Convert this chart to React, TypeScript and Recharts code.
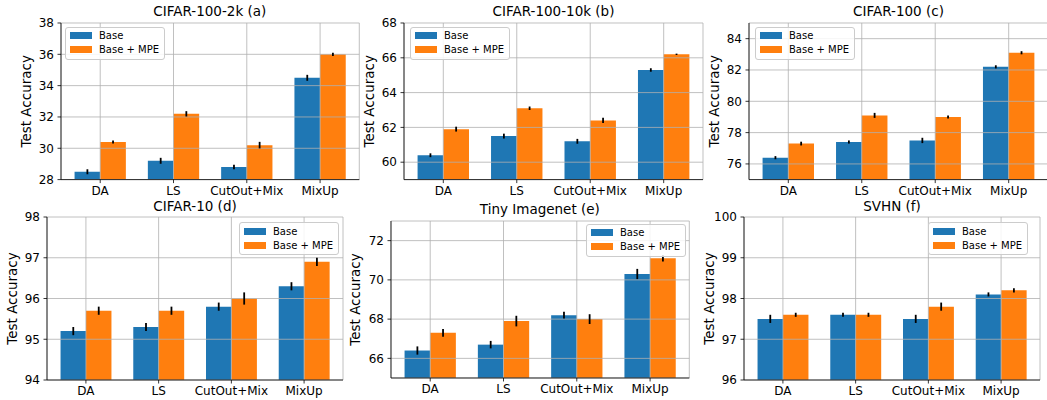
import React from 'react';
import { BarChart, Bar, XAxis, YAxis, CartesianGrid, ErrorBar, Legend } from 'recharts';

// ---------- data ----------
const categories = ['DA', 'LS', 'CutOut+Mix', 'MixUp'];
const seriesNames = ['Base', 'Base + MPE'];
const seriesColors = ['#1f77b4', '#ff7f0e'];

// (a) CIFAR-100-2k
const aBase = [28.5, 29.2, 28.8, 34.5];
const aBaseErr = [0.16, 0.19, 0.14, 0.19];
const aMpe = [30.4, 32.2, 30.2, 36.0];
const aMpeErr = [0.1, 0.17, 0.21, 0.1];
const aTicks = [28, 30, 32, 34, 36, 38];

// (b) CIFAR-100-10k
const bBase = [60.4, 61.5, 61.2, 65.3];
const bBaseErr = [0.11, 0.14, 0.14, 0.1];
const bMpe = [61.9, 63.1, 62.4, 66.2];
const bMpeErr = [0.14, 0.1, 0.15, 0.04];
const bTicks = [60, 62, 64, 66, 68];

// (c) CIFAR-100
const cBase = [76.4, 77.4, 77.5, 82.2];
const cBaseErr = [0.1, 0.1, 0.17, 0.1];
const cMpe = [77.3, 79.1, 79.0, 83.1];
const cMpeErr = [0.12, 0.16, 0.1, 0.1];
const cTicks = [76, 78, 80, 82, 84];

// (d) CIFAR-10
const dBase = [95.2, 95.3, 95.8, 96.3];
const dBaseErr = [0.1, 0.1, 0.1, 0.1];
const dMpe = [95.7, 95.7, 96.0, 96.9];
const dMpeErr = [0.1, 0.1, 0.15, 0.1];
const dTicks = [94, 95, 96, 97, 98];

// (e) Tiny Imagenet
const eBase = [66.4, 66.7, 68.2, 70.3];
const eBaseErr = [0.21, 0.19, 0.17, 0.26];
const eMpe = [67.3, 67.9, 68.0, 71.1];
const eMpeErr = [0.2, 0.27, 0.25, 0.17];
const eTicks = [66, 68, 70, 72];

// (f) SVHN
const fBase = [97.5, 97.6, 97.5, 98.1];
const fBaseErr = [0.1, 0.05, 0.1, 0.05];
const fMpe = [97.6, 97.6, 97.8, 98.2];
const fMpeErr = [0.05, 0.05, 0.1, 0.05];
const fTicks = [96, 97, 98, 99, 100];

const buildRows = (base: number[], baseErr: number[], mpe: number[], mpeErr: number[]) =>
  categories.map((name, i) => ({ name, base: base[i], baseErr: baseErr[i], mpe: mpe[i], mpeErr: mpeErr[i] }));

// ---------- layout ----------
const FONT = '"DejaVu Sans", Verdana, sans-serif';
const ML = 50, MT = 20, MR = 10, MB = 30, XH = 25;

type PanelCfg = {
  title: string;
  rows: any[];
  domain: [number, number];
  ticks: number[];
  x0: number; y0: number; x1: number; y1: number;
  lx: number; ly: number;
};

const panels: PanelCfg[] = [
  { title: 'CIFAR-100-2k (a)', rows: buildRows(aBase, aBaseErr, aMpe, aMpeErr), domain: [28, 38], ticks: aTicks,
    x0: 60.7, y0: 22.7, x1: 359, y1: 179.3, lx: 65, ly: 27 },
  { title: 'CIFAR-100-10k (b)', rows: buildRows(bBase, bBaseErr, bMpe, bMpeErr), domain: [59, 68], ticks: bTicks,
    x0: 404, y0: 22.7, x1: 703, y1: 179.3, lx: 410, ly: 27 },
  { title: 'CIFAR-100 (c)', rows: buildRows(cBase, cBaseErr, cMpe, cMpeErr), domain: [75, 85], ticks: cTicks,
    x0: 749, y0: 22.7, x1: 1048, y1: 179.3, lx: 755, ly: 27 },
  { title: 'CIFAR-10 (d)', rows: buildRows(dBase, dBaseErr, dMpe, dMpeErr), domain: [94, 98], ticks: dTicks,
    x0: 47, y0: 217, x1: 343, y1: 380, lx: 239, ly: 222 },
  { title: 'Tiny Imagenet (e)', rows: buildRows(eBase, eBaseErr, eMpe, eMpeErr), domain: [65, 73], ticks: eTicks,
    x0: 390.7, y0: 220.7, x1: 689, y1: 377.7, lx: 586, ly: 224 },
  { title: 'SVHN (f)', rows: buildRows(fBase, fBaseErr, fMpe, fMpeErr), domain: [96, 100], ticks: fTicks,
    x0: 744, y0: 217, x1: 1040, y1: 380, lx: 928, ly: 222 },
];

const LegendBox = () => (
  <div
    style={{
      background: 'rgba(255,255,255,0.85)',
      border: '1px solid #cccccc',
      borderRadius: 3,
      padding: '1px 5px 2px 4px',
      fontFamily: FONT,
      fontSize: 10,
      color: '#000',
    }}
  >
    {seriesNames.map((n, i) => (
      <div key={n} style={{ display: 'flex', alignItems: 'center', height: 14, whiteSpace: 'nowrap' }}>
        <span style={{ display: 'inline-block', width: 22, height: 7, background: seriesColors[i], marginRight: 7 }} />
        <span>{n}</span>
      </div>
    ))}
  </div>
);

function Panel({ cfg }: { cfg: PanelCfg }) {
  const left = cfg.x0 - ML;
  const top = cfg.y0 - MT;
  const pw = cfg.x1 - cfg.x0;
  const ph = cfg.y1 - cfg.y0;
  const width = pw + ML + MR;
  const height = ph + MT + MB;
  const unit = pw / 4.07;
  const pad = (pw - 4 * unit) / 2;
  const barSize = 0.35 * unit;
  const axisStroke = { stroke: '#000', strokeWidth: 0.8 };

  const ylabelContent = (p: any) => {
    const vb = p.viewBox || {};
    const bx = vb.x + vb.width - 30.5;
    const cy = vb.y + vb.height / 2;
    return (
      <text x={bx} y={cy} transform={`rotate(-90, ${bx}, ${cy})`} textAnchor="middle" fontSize={13.5} fontFamily={FONT} fill="#000">
        Test Accuracy
      </text>
    );
  };

  const gridProps: any = { zIndex: 350 };

  return (
    <div style={{ position: 'absolute', left, top, width, height }}>
      <div
        style={{
          position: 'absolute',
          left: ML,
          width: pw,
          top: MT - 6.5 - 13,
          height: 16,
          lineHeight: '16px',
          textAlign: 'center',
          fontFamily: FONT,
          fontSize: 13.5,
          color: '#000',
          whiteSpace: 'nowrap',
        }}
      >
        {cfg.title}
      </div>
      <BarChart
        width={width}
        height={height}
        data={cfg.rows}
        margin={{ top: MT, right: MR, bottom: MB - XH, left: 0 }}
        barGap={0}
        barSize={barSize}
      >
        <Bar dataKey="base" name={seriesNames[0]} fill={seriesColors[0]} isAnimationActive={false}>
          <ErrorBar dataKey="baseErr" width={0} stroke="#000" strokeWidth={1.8} direction="y" isAnimationActive={false} />
        </Bar>
        <Bar dataKey="mpe" name={seriesNames[1]} fill={seriesColors[1]} isAnimationActive={false}>
          <ErrorBar dataKey="mpeErr" width={0} stroke="#000" strokeWidth={1.8} direction="y" isAnimationActive={false} />
        </Bar>
        <CartesianGrid stroke="#b0b0b0" strokeWidth={0.8} horizontal vertical {...gridProps} />
        <XAxis
          dataKey="name"
          type="category"
          interval={0}
          padding={{ left: pad, right: pad }}
          height={XH}
          tickSize={3.5}
          tickMargin={3}
          tick={{ fontSize: 12, fill: '#000', fontFamily: FONT }}
          tickLine={axisStroke}
          axisLine={axisStroke}
        />
        <XAxis
          xAxisId="top"
          orientation="top"
          dataKey="name"
          type="category"
          height={0}
          padding={{ left: pad, right: pad }}
          tick={false}
          tickLine={false}
          axisLine={axisStroke}
        />
        <YAxis
          type="number"
          domain={cfg.domain}
          ticks={cfg.ticks}
          allowDataOverflow
          interval={0}
          width={ML}
          tickSize={3.5}
          tickMargin={3.5}
          tick={{ fontSize: 12, fill: '#000', fontFamily: FONT }}
          tickLine={axisStroke}
          axisLine={axisStroke}
          label={{ content: ylabelContent }}
        />
        <YAxis
          yAxisId="right"
          orientation="right"
          type="number"
          domain={cfg.domain}
          allowDataOverflow
          width={0}
          tick={false}
          tickLine={false}
          axisLine={axisStroke}
        />
        <Legend
          layout="vertical"
          align="center"
          verticalAlign="middle"
          content={() => <LegendBox />}
          wrapperStyle={{ left: cfg.lx - left, top: cfg.ly - top, width: 'auto', height: 'auto' }}
        />
      </BarChart>
    </div>
  );
}

export default function App() {
  return (
    <div
      style={{
        position: 'absolute',
        left: 0,
        top: 0,
        width: 1047,
        height: 400,
        overflow: 'hidden',
        background: '#fff',
      }}
    >
      {panels.map((p) => (
        <Panel key={p.title} cfg={p} />
      ))}
    </div>
  );
}
